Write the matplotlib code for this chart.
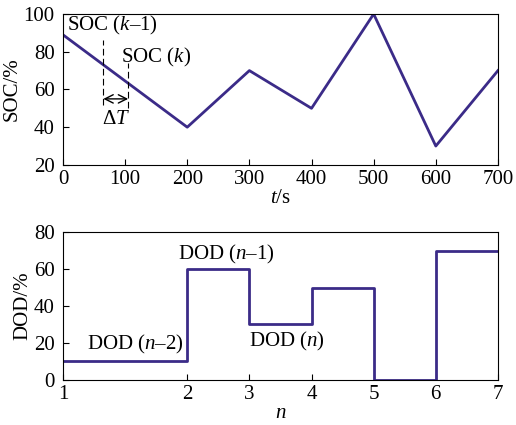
import matplotlib
matplotlib.use('Agg')
import matplotlib.pyplot as plt

plt.rcParams['font.family'] = 'Liberation Serif'
plt.rcParams['mathtext.fontset'] = 'custom'
plt.rcParams['mathtext.rm'] = 'Liberation Serif'
plt.rcParams['mathtext.it'] = 'Liberation Serif:italic'
plt.rcParams['font.size'] = 15

# SOC curve over time
t = [0, 200, 300, 400, 500, 600, 700]
soc = [89, 40, 70, 50, 100, 30, 70]

# DOD per cycle (step plot), edges along the n axis
n_edges = [0, 2, 3, 4, 5, 6, 7]
dod = [10, 60, 30, 50, 0, 70]
n_ticks = [0, 2, 3, 4, 5, 6, 7]
n_labels = ['1', '2', '3', '4', '5', '6', '7']

# the two sample times marked on the SOC curve
t_prev, t_cur = 65, 105

col = '#3b2b88'

fig = plt.figure(figsize=(5.16, 4.25), dpi=100)
ax1 = fig.add_axes([0.122, 0.612, 0.843, 0.355])
ax2 = fig.add_axes([0.122, 0.106, 0.843, 0.348])

ax1.plot(t, soc, color=col, lw=2)
ax1.set_xlim(0, 700)
ax1.set_ylim(20, 100)
ax1.set_xticks([0, 100, 200, 300, 400, 500, 600, 700])
ax1.set_yticks([20, 40, 60, 80, 100])
ax1.set_xlabel('$t$/s', labelpad=0)
ax1.set_ylabel('SOC/%', labelpad=1)

ax1.plot([t_prev, t_prev], [52, 86], color='k', lw=0.8, ls=(0, (6, 3)))
ax1.plot([t_cur, t_cur], [50, 74], color='k', lw=0.8, ls=(0, (6, 3)))
ax1.annotate('', xy=(t_prev, 55), xytext=(t_cur, 55),
             arrowprops=dict(arrowstyle='<->', color='k', lw=1, shrinkA=0, shrinkB=0))
ax1.text((t_prev + t_cur) / 2, 44, r'$\Delta T$', ha='center', va='center')
ax1.text(6, 94, 'SOC ($k$\u20131)', ha='left', va='center')
ax1.text(94, 77, 'SOC ($k$)', ha='left', va='center')

ys = dod + [dod[-1]]
ax2.step(n_edges, ys, where='post', color=col, lw=2)
ax2.set_xlim(0, 7)
ax2.set_ylim(0, 80)
ax2.set_xticks(n_ticks)
ax2.set_xticklabels(n_labels)
ax2.set_yticks([0, 20, 40, 60, 80])
ax2.set_xlabel('$n$', labelpad=0)
ax2.set_ylabel('DOD/%', labelpad=1)
ax2.text(0.38, 19, 'DOD ($n$\u20132)', ha='left', va='center')
ax2.text(1.85, 68, 'DOD ($n$\u20131)', ha='left', va='center')
ax2.text(3.0, 21, 'DOD ($n$)', ha='left', va='center')

for ax in (ax1, ax2):
    ax.tick_params(direction='in', length=4, width=0.8, top=False, right=False)
    ax.tick_params(axis='y', pad=6)
    for s in ax.spines.values():
        s.set_linewidth(0.8)

fig.savefig('out.png', dpi=100)
